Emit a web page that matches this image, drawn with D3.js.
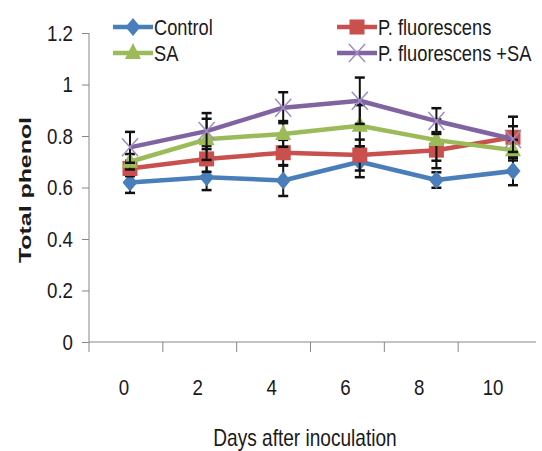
<!DOCTYPE html>
<html>
<head>
<meta charset="utf-8">
<script src="https://cdn.jsdelivr.net/npm/d3@7"></script>
<style>
  html, body { margin: 0; padding: 0; background: #ffffff; }
  svg { display: block; }
  text { font-family: "Liberation Sans", Arial, sans-serif; fill: #1a1a1a; }
</style>
</head>
<body>
<svg id="chart" width="542" height="451"></svg>
<script>
const days = [0, 2, 4, 6, 8, 10];
const yTicks = [0, 0.2, 0.4, 0.6, 0.8, 1.0, 1.2];
const seriesNames = ["Control", "P. fluorescens", "SA", "P. fluorescens +SA"];
const control = [0.619, 0.640, 0.627, 0.700, 0.629, 0.664];
const controlErr = [0.04, 0.05, 0.06, 0.06, 0.03, 0.055];
const pfluor = [0.674, 0.711, 0.735, 0.726, 0.745, 0.795];
const pfluorErr = [0.03, 0.05, 0.05, 0.06, 0.07, 0.08];
const sa = [0.700, 0.787, 0.808, 0.840, 0.784, 0.745];
const saErr = [0.03, 0.08, 0.05, 0.08, 0.08, 0.04];
const pfsa = [0.756, 0.819, 0.910, 0.937, 0.858, 0.788];
const pfsaErr = [0.06, 0.07, 0.06, 0.09, 0.05, 0.05];
const colors = ["#4a7ebb", "#c9504d", "#9bbb59", "#8064a2"];

const svg = d3.select("#chart");
const y = d3.scaleLinear().domain([0, 1.2]).range([342, 33]);
const xBand = d3.scaleBand().domain(days).range([89, 532]);
const x = d3.scaleLinear().domain([0, 10]).range([130, 513]);

// narrow the glyphs horizontally (condensed look)
function squeeze(sel, f) {
  sel.each(function() {
    const w = this.getComputedTextLength();
    d3.select(this).attr("textLength", w * f).attr("lengthAdjust", "spacingAndGlyphs");
  });
}

// axes
const axisColor = "#878787";
const yAxis = svg.append("g").attr("transform", "translate(89,0)")
  .call(d3.axisLeft(y).tickValues(yTicks).tickSize(7).tickPadding(9)
    .tickFormat(d => d === 0 ? "0" : (d === 1 ? "1" : d3.format(".1f")(d))));
yAxis.select(".domain").attr("stroke", axisColor).attr("d", "M0,33V342");
yAxis.selectAll(".tick line").attr("stroke", axisColor);
yAxis.selectAll("text").style("font-size", "22px").style("font-family", "'Liberation Sans', Arial, sans-serif");
squeeze(yAxis.selectAll("text"), 0.85);

const xAxis = svg.append("g").attr("transform", "translate(0,342)")
  .call(d3.axisBottom(xBand).tickSize(0).tickPadding(37));
xAxis.select(".domain").attr("stroke", axisColor).attr("d", "M89,0H536");
xAxis.selectAll("text").style("font-size", "22px").style("font-family", "'Liberation Sans', Arial, sans-serif").attr("dx", -2);
squeeze(xAxis.selectAll("text"), 0.85);
xAxis.selectAll(".tickmark").data(days).enter().append("line")
  .attr("x1", d => xBand(d)).attr("x2", d => xBand(d))
  .attr("y1", 0).attr("y2", 10).attr("stroke", axisColor);

// axis titles
svg.append("text")
  .attr("transform", "translate(31,190) rotate(-90)")
  .attr("text-anchor", "middle")
  .attr("textLength", 146).attr("lengthAdjust", "spacingAndGlyphs")
  .style("font-weight", "bold").style("font-size", "17px")
  .text("Total phenol");
svg.append("g").attr("transform", "translate(305,446) scale(0.83,1)")
  .append("text")
  .attr("x", 0).attr("y", 0)
  .attr("text-anchor", "middle")
  .style("font-size", "23px")
  .text("Days after inoculation");

const data = [
  { name: seriesNames[0], v: control, e: controlErr, c: colors[0], m: "diamond" },
  { name: seriesNames[1], v: pfluor, e: pfluorErr, c: colors[1], m: "square" },
  { name: seriesNames[2], v: sa, e: saErr, c: colors[2], m: "triangle" },
  { name: seriesNames[3], v: pfsa, e: pfsaErr, c: colors[3], m: "cross" }
];

function marker(g, type, color, cx, cy) {
  if (type === "diamond") {
    g.append("path").attr("d", `M${cx},${cy-9}L${cx+7.5},${cy}L${cx},${cy+9}L${cx-7.5},${cy}Z`).attr("fill", color);
  } else if (type === "square") {
    g.append("rect").attr("x", cx-7.5).attr("y", cy-7.5).attr("width", 15).attr("height", 15).attr("fill", color);
  } else if (type === "triangle") {
    g.append("path").attr("d", `M${cx},${cy-10}L${cx+8},${cy+6}L${cx-8},${cy+6}Z`).attr("fill", color);
  } else {
    g.append("path").attr("d", `M${cx-8},${cy-9}L${cx+8},${cy+9}M${cx-8},${cy+9}L${cx+8},${cy-9}`)
      .attr("stroke", "#a08cc0").attr("stroke-width", 1.5).attr("fill", "none");
  }
}

const line = d3.line().x((d, i) => x(days[i])).y(d => y(d));
const plot = svg.append("g");
data.forEach(s => {
  const g = plot.append("g");
  // error bars
  s.v.forEach((v, i) => {
    const cx = x(days[i]);
    const top = y(v + s.e[i]), bot = y(v - s.e[i]);
    g.append("line").attr("x1", cx).attr("x2", cx).attr("y1", top).attr("y2", bot)
      .attr("stroke", "#111").attr("stroke-width", 2);
    [top, bot].forEach(yy => g.append("line").attr("x1", cx-5).attr("x2", cx+5)
      .attr("y1", yy).attr("y2", yy).attr("stroke", "#111").attr("stroke-width", 2.5));
  });
  g.append("path").datum(s.v).attr("d", line).attr("fill", "none")
    .attr("stroke", s.c).attr("stroke-width", 4.5).attr("stroke-linejoin", "round");
  s.v.forEach((v, i) => marker(g, s.m, s.c, x(days[i]), y(v)));
});

// legend
const legendPos = [[113, 27], [337, 27], [113, 53], [337, 53]];
data.forEach((s, i) => {
  const [lx, ly] = legendPos[i];
  const g = svg.append("g");
  g.append("line").attr("x1", lx).attr("x2", lx + 40).attr("y1", ly).attr("y2", ly)
    .attr("stroke", s.c).attr("stroke-width", 4.5);
  marker(g, s.m, s.c, lx + 20, ly);
  g.append("g").attr("transform", `translate(${lx + 41},${ly + 8}) scale(0.83,1)`)
    .append("text").attr("x", 0).attr("y", 0).style("font-size", "22px").text(s.name);
});
</script>
</body>
</html>
